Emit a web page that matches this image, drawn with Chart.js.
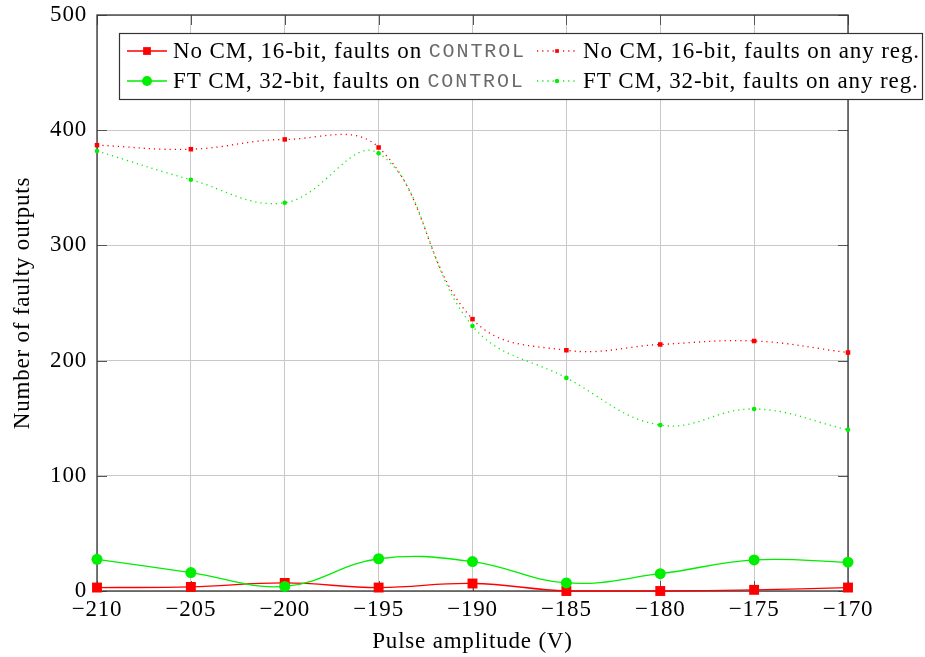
<!DOCTYPE html>
<html>
<head>
<meta charset="utf-8">
<script src="https://cdn.jsdelivr.net/npm/chart.js@4/dist/chart.umd.min.js"></script>
<style>
  html, body { margin: 0; padding: 0; background: #fff; }
  #wrap { width: 925px; height: 657px; }
</style>
</head>
<body>
<div id="wrap"><canvas id="faults-chart"></canvas></div>
<script>
// pulse amplitude (V) on the x axis
const pulseAmplitudes = [-210, -205, -200, -195, -190, -185, -180, -175, -170];

// number of faulty outputs per configuration
const noCmControl = [3, 3.5, 7, 3, 6.5, 0, 0, 1, 3];
const noCmAnyReg = [387, 383.5, 392, 385, 236, 209, 214, 217, 207];
const ftCmControl = [27.5, 16, 4, 28, 25.5, 7, 15, 27, 25];
const ftCmAnyReg = [382, 357, 337, 380, 230, 185, 144, 158, 140];

const yTicks = [0, 100, 200, 300, 400, 500];
const xTicks = [-210, -205, -200, -195, -190, -185, -180, -175, -170];

const seriesLabels = [
    'No CM, 16-bit, faults on CONTROL',
    'No CM, 16-bit, faults on any reg.',
    'FT CM, 32-bit, faults on CONTROL',
    'FT CM, 32-bit, faults on any reg.'
];

const RED = '#ff0000';
const GREEN = '#00ee00';
const SERIF = '"Liberation Serif", "DejaVu Serif", serif';
const MONO = '"Liberation Mono", "DejaVu Sans Mono", monospace';
const SPACING = '0.8px';

function toPoints(values) {
    return pulseAmplitudes.map((x, i) => ({ x: x, y: values[i] }));
}

function minus(v) {
    return String(v).replace('-', '\u2212');
}

// a little letter spacing, like the LaTeX text
const spacingPlugin = {
    id: 'spacing',
    beforeUpdate(chart) { chart.ctx.letterSpacing = SPACING; },
    beforeDraw(chart) { chart.ctx.letterSpacing = SPACING; }
};

// frame around the plot and inward tick marks
const framePlugin = {
    id: 'frame',
    beforeDatasetsDraw(chart) {
        const { ctx, chartArea: a, scales } = chart;
        ctx.save();
        ctx.strokeStyle = '#555';
        ctx.lineWidth = 1;
        const len = 10;
        ctx.beginPath();
        xTicks.forEach(t => {
            const px = Math.round(scales.x.getPixelForValue(t)) + 0.5;
            ctx.moveTo(px, a.bottom); ctx.lineTo(px, a.bottom - len);
            ctx.moveTo(px, a.top); ctx.lineTo(px, a.top + len);
        });
        yTicks.forEach(t => {
            const py = Math.round(scales.y.getPixelForValue(t)) + 0.5;
            ctx.moveTo(a.left, py); ctx.lineTo(a.left + len, py);
            ctx.moveTo(a.right, py); ctx.lineTo(a.right - len, py);
        });
        ctx.stroke();
        ctx.strokeStyle = '#333';
        ctx.lineWidth = 1.3;
        ctx.strokeRect(a.left, a.top, a.right - a.left, a.bottom - a.top);
        ctx.restore();
    }
};

// legend drawn inside the plot, two rows by two columns
const boxLegendPlugin = {
    id: 'boxLegend',
    afterDraw(chart) {
        const ctx = chart.ctx;
        const box = { left: 119, top: 33, right: 923, bottom: 100 };
        ctx.save();
        ctx.fillStyle = '#fff';
        ctx.fillRect(box.left, box.top, box.right - box.left, box.bottom - box.top);
        ctx.strokeStyle = '#333';
        ctx.lineWidth = 1.2;
        ctx.strokeRect(box.left + 0.5, box.top + 0.5, box.right - box.left - 1, box.bottom - box.top - 1);

        const cols = [127, 537];
        const rows = [51, 81];
        const legendRadius = [5.5, 2.6, 5, 2.2];
        const layout = [[0, 1], [2, 3]];
        layout.forEach((row, r) => {
            row.forEach((dsIndex, c) => {
                const ds = chart.data.datasets[dsIndex];
                const x0 = cols[c];
                const y = rows[r];
                const sampleW = 40;
                ctx.save();
                ctx.strokeStyle = ds.borderColor;
                ctx.lineWidth = ds.borderWidth;
                ctx.setLineDash(ds.borderDash || []);
                ctx.beginPath();
                ctx.moveTo(x0, y);
                ctx.lineTo(x0 + sampleW, y);
                ctx.stroke();
                ctx.setLineDash([]);
                ctx.fillStyle = ds.pointBackgroundColor;
                ctx.strokeStyle = ds.pointBackgroundColor;
                Chart.helpers.drawPoint(ctx, {
                    pointStyle: ds.pointStyle,
                    radius: legendRadius[dsIndex],
                    rotation: 0,
                    borderWidth: 0
                }, x0 + sampleW / 2, y);
                ctx.restore();

                // text, with CONTROL in typewriter font
                let tx = x0 + sampleW + 6;
                const label = ds.label;
                const idx = label.indexOf('CONTROL');
                ctx.textBaseline = 'middle';
                ctx.fillStyle = '#000';
                ctx.letterSpacing = '0.9px';
                ctx.font = '23px ' + SERIF;
                if (idx >= 0) {
                    const head = label.slice(0, idx);
                    ctx.fillText(head, tx, y + 1);
                    tx += ctx.measureText(head).width;
                    ctx.font = '20px ' + MONO;
                    ctx.letterSpacing = '1.9px';
                    ctx.fillStyle = '#6a6a6a';
                    ctx.fillText('CONTROL', tx, y + 1);
                } else {
                    ctx.fillText(label, tx, y + 1);
                }
            });
        });
        ctx.restore();
    }
};

const ctx = document.getElementById('faults-chart');
new Chart(ctx, {
    type: 'line',
    data: {
        datasets: [
            {
                label: seriesLabels[0],
                data: toPoints(noCmControl),
                borderColor: RED,
                backgroundColor: RED,
                pointBackgroundColor: RED,
                pointBorderWidth: 0,
                borderWidth: 1.3,
                pointStyle: 'rect',
                pointRadius: 7,
                tension: 0.4,
                clip: false,
                order: 3
            },
            {
                label: seriesLabels[1],
                data: toPoints(noCmAnyReg),
                borderColor: RED,
                backgroundColor: RED,
                pointBackgroundColor: RED,
                pointBorderWidth: 0,
                borderWidth: 1.3,
                borderDash: [1.2, 4],
                pointStyle: 'rect',
                pointRadius: 3.2,
                tension: 0.4,
                clip: false,
                order: 4
            },
            {
                label: seriesLabels[2],
                data: toPoints(ftCmControl),
                borderColor: GREEN,
                backgroundColor: GREEN,
                pointBackgroundColor: GREEN,
                pointBorderWidth: 0,
                borderWidth: 1.3,
                pointStyle: 'circle',
                pointRadius: 5.5,
                tension: 0.4,
                clip: false,
                order: 1
            },
            {
                label: seriesLabels[3],
                data: toPoints(ftCmAnyReg),
                borderColor: GREEN,
                backgroundColor: GREEN,
                pointBackgroundColor: GREEN,
                pointBorderWidth: 0,
                borderWidth: 1.3,
                borderDash: [1.2, 4],
                pointStyle: 'circle',
                pointRadius: 2.3,
                tension: 0.4,
                clip: false,
                order: 2
            }
        ]
    },
    options: {
        responsive: true,
        maintainAspectRatio: false,
        animation: false,
        layout: { padding: { top: 15, right: 77, left: 0, bottom: 0 } },
        plugins: {
            legend: { display: false },
            tooltip: { enabled: false }
        },
        scales: {
            x: {
                type: 'linear',
                min: -210,
                max: -170,
                afterBuildTicks: axis => { axis.ticks = xTicks.map(v => ({ value: v })); },
                afterFit: axis => { axis.height = 66; axis.paddingLeft = 0; axis.paddingRight = 0; },
                grid: { color: '#c8c8c8', lineWidth: 1, drawTicks: false },
                border: { display: false },
                ticks: {
                    color: '#000',
                    padding: 5,
                    maxRotation: 0,
                    font: { family: SERIF, size: 23 },
                    callback: v => minus(v)
                },
                title: {
                    display: true,
                    text: 'Pulse amplitude (V)',
                    color: '#000',
                    font: { family: SERIF, size: 23 },
                    padding: { top: 0, bottom: 1 }
                }
            },
            y: {
                min: 0,
                max: 500,
                afterBuildTicks: axis => { axis.ticks = yTicks.map(v => ({ value: v })); },
                afterFit: axis => { axis.width = 97; axis.paddingTop = 0; axis.paddingBottom = 0; },
                grid: { color: '#c8c8c8', lineWidth: 1, drawTicks: false },
                border: { display: false },
                ticks: {
                    color: '#000',
                    padding: 10,
                    font: { family: SERIF, size: 23 }
                },
                title: {
                    display: true,
                    text: 'Number of faulty outputs',
                    color: '#000',
                    font: { family: SERIF, size: 23 },
                    padding: { top: 9, bottom: 0 }
                }
            }
        }
    },
    plugins: [spacingPlugin, framePlugin, boxLegendPlugin]
});
</script>
</body>
</html>
